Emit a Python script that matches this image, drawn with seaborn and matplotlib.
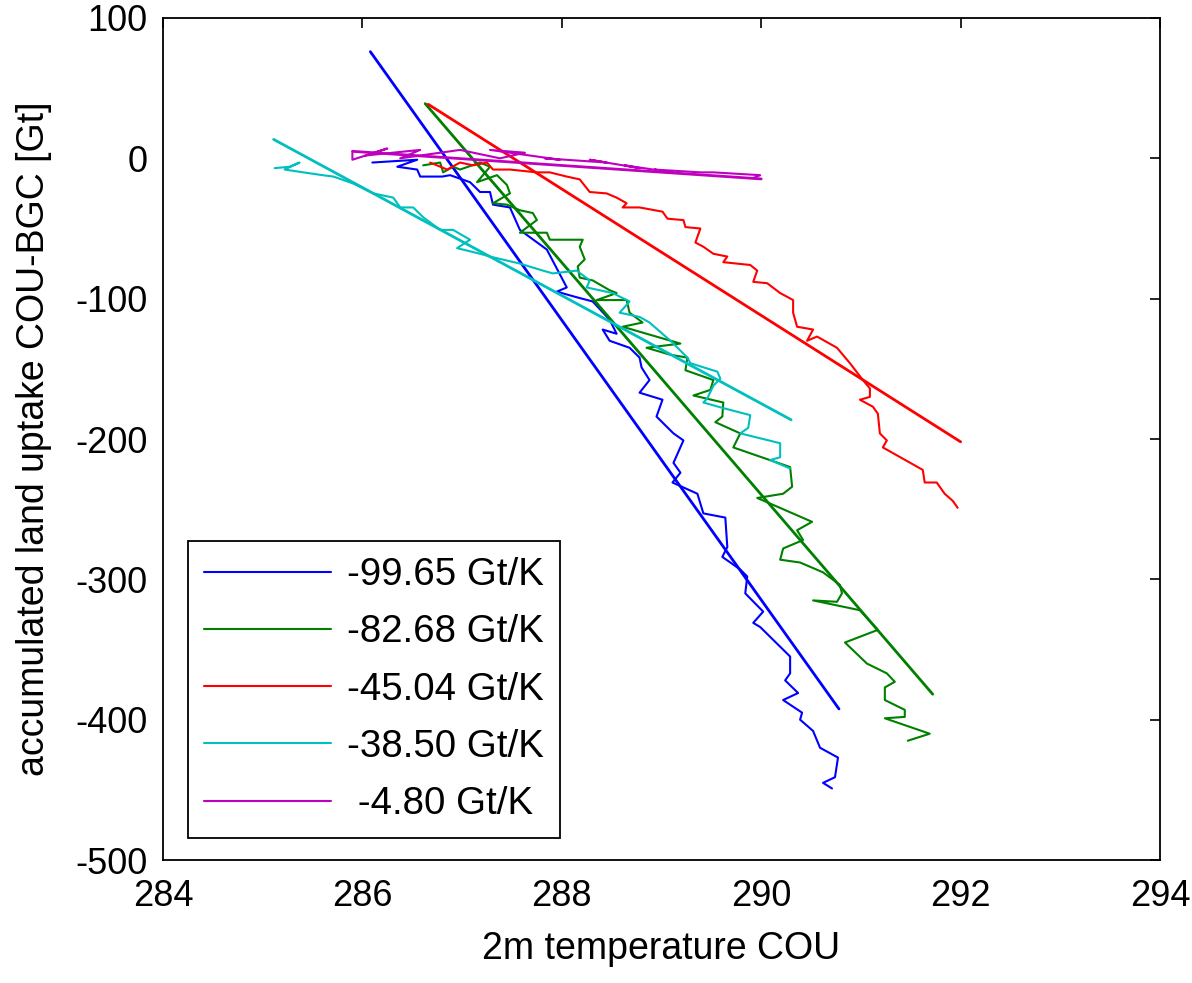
import numpy as np
import pandas as pd
import matplotlib
matplotlib.use("Agg")
import matplotlib.pyplot as plt
from matplotlib.lines import Line2D
import seaborn as sns

# ---------------- data ----------------
blue_T = [286.10, 286.55, 286.35, 286.55, 286.58, 286.80, 286.88, 287.08, 287.18, 287.28,
          287.31, 287.48, 287.58, 287.85, 288.05, 287.95, 288.15, 288.31, 288.48, 288.55,
          288.41, 288.48, 288.68, 288.78, 288.80, 288.88, 288.78, 289.01, 288.95, 289.12,
          289.22, 289.12, 289.19, 289.11, 289.36, 289.42, 289.64, 289.66, 289.61, 289.79,
          289.86, 289.84, 290.02, 289.92, 289.99, 290.29, 290.29, 290.24, 290.37, 290.22,
          290.41, 290.39, 290.52, 290.59, 290.77, 290.74, 290.62, 290.71]
blue_C = [-3, -1, -6, -8, -13, -13, -12, -17, -24, -24,
          -33, -35, -51, -65, -92, -95, -99, -102, -115, -125,
          -122, -130, -135, -142, -149, -158, -167, -172, -184, -196,
          -201, -217, -224, -231, -239, -253, -256, -277, -284, -293,
          -298, -310, -323, -331, -334, -355, -367, -372, -381, -386,
          -395, -400, -408, -420, -427, -441, -445, -449]

green_T = [286.61, 286.78, 286.81, 286.91, 286.98, 287.18, 287.28, 287.15, 287.35, 287.45,
           287.48, 287.31, 287.45, 287.58, 287.71, 287.75, 287.58, 287.85, 287.88, 288.21,
           288.18, 288.23, 288.16, 288.18, 288.31, 288.48, 288.55, 288.35, 288.65, 288.68,
           288.81, 288.61, 288.85, 289.19, 288.85, 289.09, 289.26, 289.24, 289.52, 289.49,
           289.32, 289.62, 289.61, 289.54, 289.79, 289.72, 290.29, 290.31, 290.22, 289.96,
           290.51, 290.36, 290.42, 290.22, 290.19, 290.39, 290.62, 290.79, 290.81, 290.76,
           290.52, 290.99, 291.17, 290.84, 291.06, 291.26, 291.34, 291.24, 291.24, 291.44,
           291.44, 291.24, 291.69, 291.47]
green_C = [-5, -3, -10, -6, -8, -3, -6, -17, -12, -19,
           -25, -32, -33, -37, -39, -44, -53, -53, -58, -58,
           -63, -72, -77, -85, -87, -94, -96, -101, -101, -110,
           -117, -120, -125, -132, -135, -140, -142, -151, -158, -165,
           -169, -174, -184, -188, -196, -206, -220, -234, -239, -242,
           -259, -265, -272, -278, -286, -288, -295, -304, -310, -316,
           -315, -322, -336, -345, -360, -367, -373, -377, -386, -393,
           -398, -399, -410, -415]

red_T = [286.68, 286.85, 286.98, 287.11, 287.25, 287.31, 287.48, 287.75, 287.88, 288.05,
         288.18, 288.28, 288.45, 288.55, 288.65, 288.61, 288.78, 289.01, 289.06, 289.22,
         289.24, 289.39, 289.34, 289.42, 289.52, 289.66, 289.62, 289.89, 289.96, 289.92,
         290.06, 290.19, 290.32, 290.32, 290.36, 290.52, 290.46, 290.56, 290.76, 290.89,
         291.02, 291.09, 291.09, 290.99, 291.12, 291.17, 291.19, 291.26, 291.22, 291.62,
         291.64, 291.76, 291.84, 291.92, 291.97]
red_C = [-3, -8, -3, -5, -3, -8, -8, -10, -10, -13,
         -15, -24, -25, -28, -32, -35, -35, -38, -43, -44,
         -49, -50, -60, -63, -68, -70, -74, -76, -80, -88,
         -89, -96, -101, -110, -120, -122, -130, -127, -135, -146,
         -158, -164, -170, -172, -177, -182, -196, -201, -206, -222,
         -231, -231, -239, -244, -249]

cyan_T = [285.12, 285.27, 285.37, 285.22, 285.60, 285.71, 285.91, 286.11, 286.31, 286.38,
          286.51, 286.61, 286.78, 286.91, 287.08, 286.95, 287.18, 287.28, 287.58, 287.81,
          287.91, 288.15, 288.28, 288.25, 288.51, 288.68, 288.58, 288.78, 288.88, 289.09,
          289.26, 289.29, 289.56, 289.59, 289.52, 289.46, 289.42, 289.62, 289.89, 289.87,
          289.79, 290.19, 290.19, 290.09, 290.29]
cyan_C = [-7, -6, -3, -8, -12, -13, -18, -25, -28, -35,
          -35, -42, -51, -51, -58, -64, -68, -70, -75, -80,
          -82, -80, -87, -92, -96, -102, -110, -113, -117, -130,
          -142, -146, -152, -157, -162, -171, -174, -178, -183, -192,
          -196, -203, -213, -215, -221]

magenta_T = [285.90, 285.90, 286.25, 286.03, 286.58, 286.38, 286.98, 287.38, 287.63, 287.28,
             287.98, 287.83, 288.45, 288.28, 288.78, 288.63, 289.11, 288.93, 289.39, 289.52,
             289.99, 289.92]
magenta_C = [4, -1, 7, 2, 6, 0, 6, 0, 4, 6,
             -1, 0, -3, -1, -7, -5, -10, -8, -10, -10,
             -12, -14]

# regression lines: slope [Gt/K], start temperature, value at start, end temperature
slopes = [-99.65, -82.68, -45.04, -38.50, -4.80]
fit_T0 = [286.08, 286.63, 286.66, 285.11, 285.90]
fit_C0 = [76.0, 39.0, 38.5, 13.5, 5.0]
fit_T1 = [290.78, 291.72, 292.00, 290.30, 290.00]

labels = ["-99.65 Gt/K", "-82.68 Gt/K", "-45.04 Gt/K", "-38.50 Gt/K", " -4.80 Gt/K"]
colors = ["#0000ff", "#008000", "#ff0000", "#00bfbf", "#bf00bf"]

x_ticks = [284, 286, 288, 290, 292, 294]
y_ticks = [-500, -400, -300, -200, -100, 0, 100]

series_T = [blue_T, green_T, red_T, cyan_T, magenta_T]
series_C = [blue_C, green_C, red_C, cyan_C, magenta_C]

# ---------------- style ----------------
sns.set_style("white")
plt.rcParams["font.family"] = ["Liberation Sans", "DejaVu Sans"]
plt.rcParams["axes.unicode_minus"] = False
plt.rcParams["text.color"] = "black"
plt.rcParams["axes.labelcolor"] = "black"

fig = plt.figure(figsize=(11.92, 9.83), dpi=100)
ax = fig.add_axes([0.1367, 0.1251, 0.8365, 0.8566])

for i in range(5):
    df = pd.DataFrame({"T": series_T[i], "C": series_C[i]})
    sns.lineplot(data=df, x="T", y="C", sort=False, estimator=None,
                 color=colors[i], lw=1.5, ax=ax, legend=False)
    fx = np.array([fit_T0[i], fit_T1[i]])
    fy = fit_C0[i] + slopes[i] * (fx - fit_T0[i])
    sns.lineplot(x=fx, y=fy, sort=False, estimator=None,
                 color=colors[i], lw=2.0, ax=ax, legend=False)

ax.set_xlim(284, 294)
ax.set_ylim(-500, 100)
ax.set_xticks(x_ticks)
ax.set_yticks(y_ticks)
ax.set_xticklabels([str(t) for t in x_ticks])
ax.set_yticklabels([str(t) for t in y_ticks])

for s in ax.spines.values():
    s.set_visible(True)
    s.set_color("black")
    s.set_linewidth(1.3)

ax.tick_params(axis="both", direction="in", length=7, width=1.2, color="black",
               top=True, right=True, labelsize=26, labelcolor="black")
ax.tick_params(axis="x", pad=14)
ax.tick_params(axis="y", pad=11)

ax.set_xlabel("2m temperature COU", fontsize=27, labelpad=12, color="black")
ax.set_ylabel("accumulated land uptake COU-BGC [Gt]", fontsize=27, labelpad=17, color="black")

handles = [Line2D([0], [0], color=c, lw=1.5) for c in colors]
leg = ax.legend(handles, labels, loc="lower left", bbox_to_anchor=(0.025, 0.026),
                borderaxespad=0, fontsize=27.7, frameon=True, fancybox=False,
                framealpha=1, edgecolor="black", handlelength=3.3,
                handletextpad=0.42, labelspacing=0.55, borderpad=0.42)
leg.get_frame().set_linewidth(1.3)
for t in leg.get_texts():
    t.set_color("black")

fig.savefig("out.png", dpi=100, facecolor="white")
